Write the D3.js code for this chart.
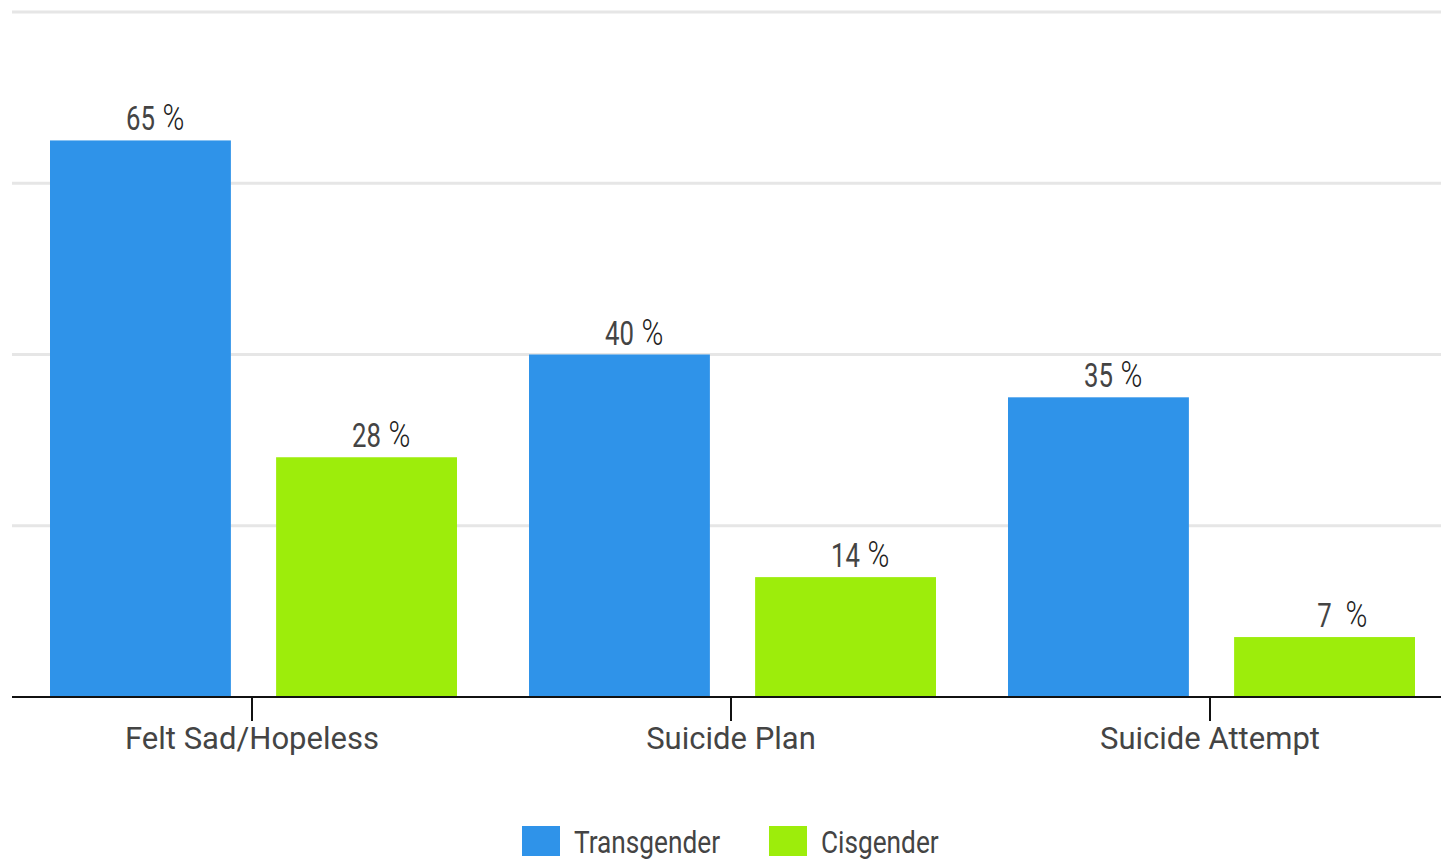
<!DOCTYPE html>
<html>
<head>
  <meta charset="UTF-8">
  <script src="https://cdn.jsdelivr.net/npm/d3@7"></script>
  <style>
    body { margin: 0; background: #fff; }
    .cond { font-family: Roboto, sans-serif; fill: #444; }
    .pct { font-family: Roboto, sans-serif; font-weight: 300; fill: #222; }
  </style>
</head>
<body>
<script>
  var categories = ["Felt Sad/Hopeless", "Suicide Plan", "Suicide Attempt"];
  var seriesNames = ["Transgender", "Cisgender"];
  var transgender = [65, 40, 35];
  var cisgender = [28, 14, 7];
  var gridTicks = [0, 20, 40, 60, 80];

  var width = 1441, height = 861;
  var colors = {"Transgender": "#2f93e9", "Cisgender": "#9ded0b"};

  var svg = d3.select("body").append("svg")
    .attr("width", width)
    .attr("height", height);

  var data = categories.map(function (c, i) {
    return {cat: c, values: [
      {key: "Transgender", v: transgender[i]},
      {key: "Cisgender", v: cisgender[i]}
    ]};
  });

  var x0 = d3.scaleBand().domain(categories).range([12.5, 1449.5]);
  var x1 = d3.scaleBand().domain(seriesNames).range([37.5, 444.5]).paddingInner(0.2);
  var y = d3.scaleLinear().domain([0, 80]).range([697, 12]);

  // gridlines
  svg.append("g").selectAll("line")
    .data(gridTicks.slice(1))
    .enter().append("line")
    .attr("x1", 12).attr("x2", width)
    .attr("y1", function (d) { return y(d); })
    .attr("y2", function (d) { return y(d); })
    .style("stroke", "#e6e6e6")
    .style("stroke-width", 3);

  var group = svg.selectAll(".grp")
    .data(data)
    .enter().append("g")
    .attr("class", "grp")
    .attr("transform", function (d) { return "translate(" + x0(d.cat) + ",0)"; });

  group.selectAll("rect")
    .data(function (d) { return d.values; })
    .enter().append("rect")
    .attr("x", function (d) { return x1(d.key); })
    .attr("width", x1.bandwidth())
    .attr("y", function (d) { return y(d.v); })
    .attr("height", function (d) { return y(0) - y(d.v); })
    .style("fill", function (d) { return colors[d.key]; });

  // value labels: number centred on bar, % after it
  var lab = group.selectAll(".lab")
    .data(function (d) { return d.values; })
    .enter().append("g")
    .attr("class", "lab")
    .attr("transform", function (d) {
      return "translate(" + (x1(d.key) + x1.bandwidth() / 2) + "," + (y(d.v) - 10) + ")";
    });

  lab.append("text")
    .attr("class", "cond")
    .attr("text-anchor", "middle")
    .attr("transform", "scale(0.78,1)")
    .style("font-size", "33px")
    .text(function (d) { return d.v; });

  lab.append("text")
    .attr("class", "pct")
    .attr("transform", function (d) {
      return "translate(" + (d.v < 10 ? 21 : 22) + ",0) scale(0.8,1)";
    })
    .style("font-size", "37px")
    .text("%");

  // x axis
  var axis = svg.append("g")
    .attr("transform", "translate(0," + y(0) + ")")
    .call(d3.axisBottom(x0).tickSize(24).tickSizeOuter(0).tickPadding(4));
  axis.select(".domain")
    .attr("d", "M12,0H" + width)
    .style("stroke", "#111").style("stroke-width", 2);
  axis.selectAll(".tick line").style("stroke", "#111").style("stroke-width", 2);
  axis.selectAll(".tick text")
    .attr("class", "cond")
    .attr("fill", "#444")
    .style("font-size", "32px")
    .attr("y", 0)
    .attr("dy", 0)
    .attr("transform", "translate(0,52) scale(0.97,1)");

  // legend
  var legend = svg.append("g").attr("transform", "translate(522,826)");
  var item = legend.selectAll("g")
    .data(seriesNames)
    .enter().append("g")
    .attr("transform", function (d, i) { return "translate(" + (i * 247) + ",0)"; });
  item.append("rect")
    .attr("width", 38).attr("height", 30)
    .style("fill", function (d) { return colors[d]; });
  item.append("text")
    .attr("class", "cond")
    .attr("transform", "translate(52,27) scale(0.82,1)")
    .style("font-size", "32px")
    .text(function (d) { return d; });
</script>
</body>
</html>
